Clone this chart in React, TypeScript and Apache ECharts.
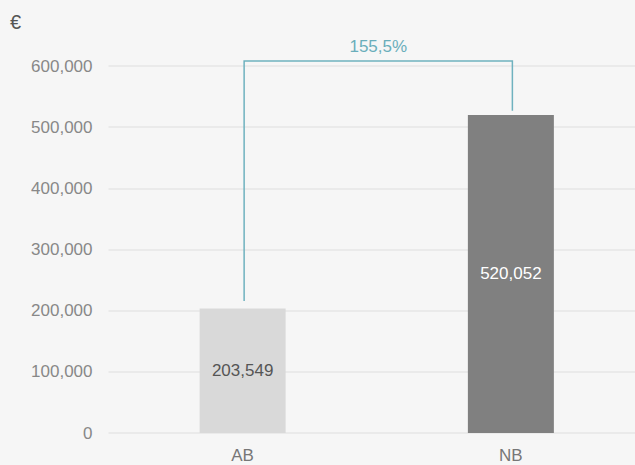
import React, { useEffect, useRef } from "react";
import * as echarts from "echarts";

const categories = ["AB", "NB"];
const values = [203549, 520052];
const barColors = ["#d9d9d9", "#808080"];
const labelColors = ["#555555", "#ffffff"];
const yTicks = [0, 100000, 200000, 300000, 400000, 500000, 600000];
const bracketTop = 608000;
const bracketEnds = [215800, 526900];
const unitLabel = "€";

const fmt = (v: number) => v.toLocaleString("en-US");
const growth = ((values[1] / values[0] - 1) * 100).toFixed(1).replace(".", ",") + "%";

export default function App() {
  const ref = useRef<HTMLDivElement>(null);
  useEffect(() => {
    document.body.style.margin = "0";
    const chart = echarts.init(ref.current!, null, { renderer: "svg" });
    const font = "Liberation Sans, Arial, sans-serif";
    chart.setOption({
      animation: false,
      backgroundColor: "#f6f6f6",
      textStyle: { fontFamily: font },
      graphic: [
        {
          type: "text",
          left: 10,
          top: 12,
          style: { text: unitLabel, fontSize: 20, fill: "#555", fontFamily: font },
        },
      ],
      grid: { left: 108.5, right: 0, top: 66, bottom: 32, containLabel: false },
      xAxis: {
        type: "category",
        data: categories,
        axisLine: { show: false },
        axisTick: { show: false },
        axisLabel: { color: "#777", fontSize: 17, margin: 14, fontFamily: font },
      },
      yAxis: {
        type: "value",
        min: yTicks[0],
        max: yTicks[yTicks.length - 1],
        interval: yTicks[1] - yTicks[0],
        axisLine: { show: false },
        axisTick: { show: false },
        axisLabel: { color: "#888", fontSize: 17, margin: 16, formatter: (v: number) => fmt(v), fontFamily: font },
        splitLine: { lineStyle: { color: "#e6e6e6", width: 1.5 } },
      },
      series: [
        {
          type: "bar",
          barWidth: 86,
          data: values.map((v, i) => ({
            value: v,
            itemStyle: { color: barColors[i] },
            label: { color: labelColors[i] },
          })),
          label: {
            show: true,
            position: "inside",
            fontSize: 17,
            fontFamily: font,
            formatter: (p: any) => fmt(p.value),
          },
        },
        {
          type: "custom",
          clip: false,
          data: [[0, 1]],
          renderItem: (params: any, api: any) => {
            const a = api.coord([0, bracketEnds[0]]);
            const b = api.coord([0, bracketTop]);
            const c = api.coord([1, bracketTop]);
            const d = api.coord([1, bracketEnds[1]]);
            const lx = a[0] + 1.5;
            const rx = d[0] + 1.5;
            return {
              type: "group",
              children: [
                {
                  type: "polyline",
                  shape: { points: [[lx, a[1]], [lx, b[1]], [rx, c[1]], [rx, d[1]]] },
                  style: { stroke: "#6fb2bf", lineWidth: 1.5, fill: "none" },
                },
                {
                  type: "text",
                  x: (lx + rx) / 2,
                  y: b[1] - 6,
                  style: {
                    text: growth,
                    fill: "#6aaebb",
                    fontSize: 17,
                    fontFamily: font,
                    align: "center",
                    verticalAlign: "bottom",
                  },
                },
              ],
            };
          },
        },
      ],
    });
    return () => chart.dispose();
  }, []);
  return (
    <div style={{ width: 635, height: 465, overflow: "hidden", background: "#f6f6f6" }}>
      <div ref={ref} style={{ width: 645, height: 465 }} />
    </div>
  );
}
